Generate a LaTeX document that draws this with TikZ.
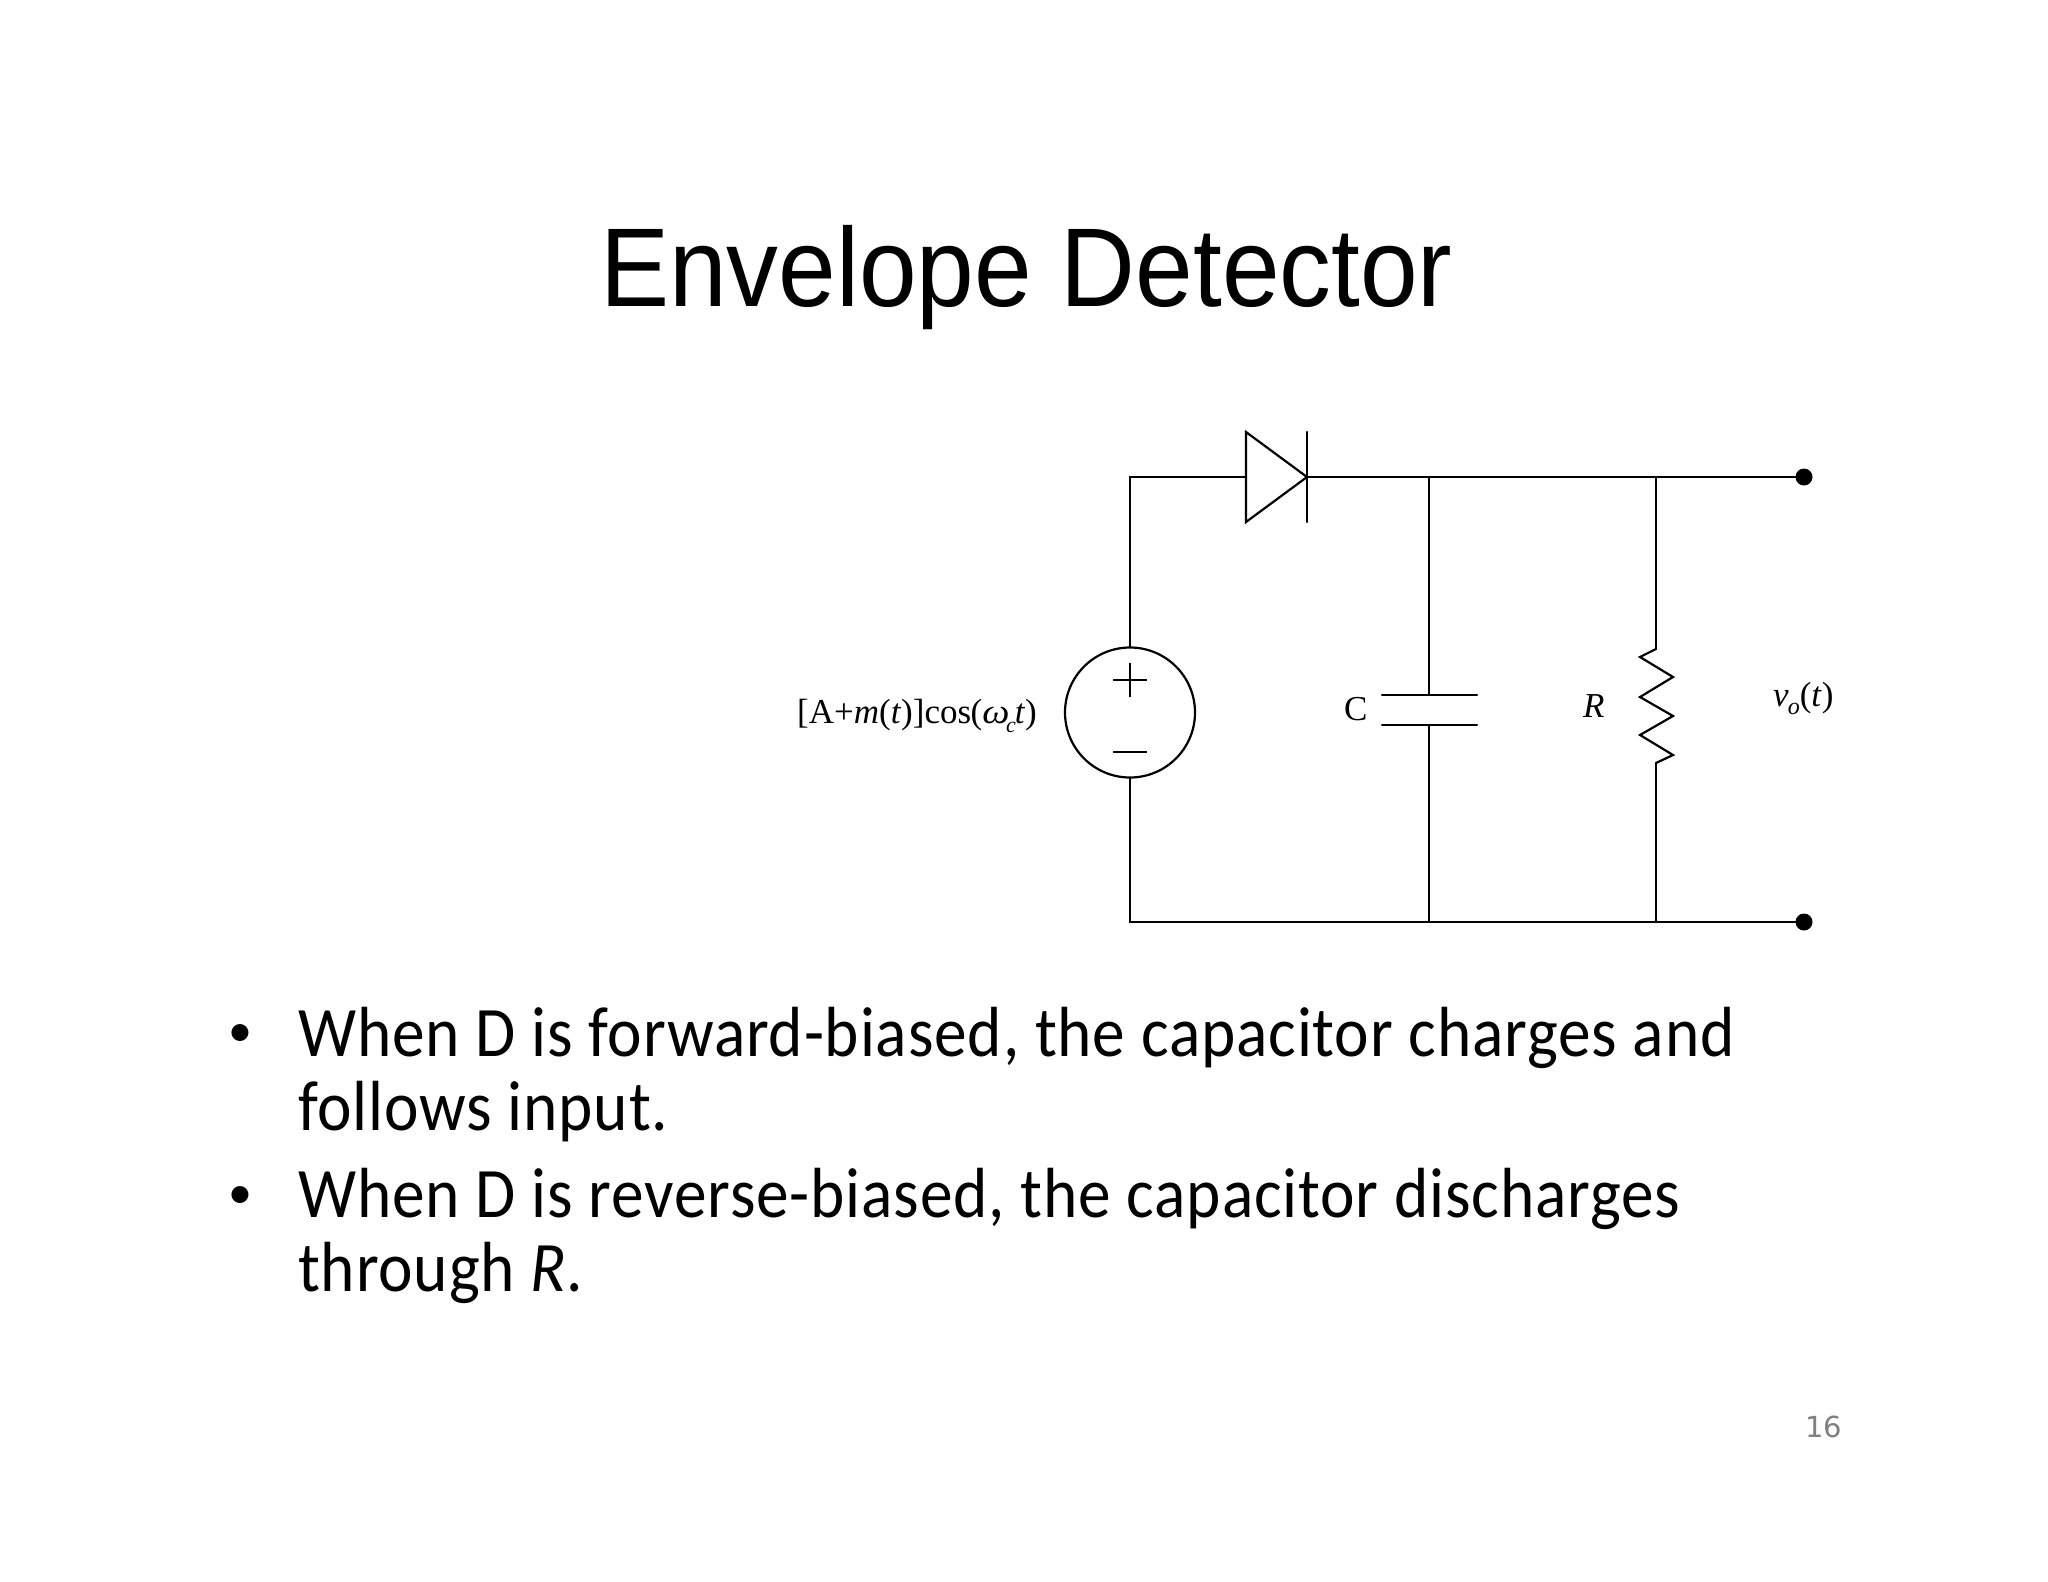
\documentclass[tikz,border=0pt]{standalone}
\usepackage{fontspec}
\setmainfont[FakeStretch=0.92,LetterSpace=1.22]{Carlito}
\newfontfamily\timesf{Liberation Serif}
\newfontfamily\titlef[FakeStretch=0.925]{Liberation Sans}
\newfontfamily\pagef{DejaVu Sans}
\newfontfamily\bulletf{Carlito}
\tikzset{
  x=1pt,y=-1pt,
  wire/.style={draw=black,line width=2.2pt,line cap=round,line join=miter},
  thinwire/.style={draw=black,line width=2pt},
  terminal/.style={circle,fill=black,draw=none,inner sep=0pt,minimum size=17pt},
  titletext/.style={anchor=base west,inner sep=0pt,font=\titlef\fontsize{112}{112}\selectfont},
  bodytext/.style={anchor=base west,inner sep=0pt,font=\fontsize{71}{72}\selectfont},
  bullettext/.style={anchor=base west,inner sep=0pt,font=\bulletf\fontsize{48}{48}\selectfont},
  ckttext/.style={anchor=base west,inner sep=0pt,font=\timesf\fontsize{35}{35}\selectfont},
}
\begin{document}
\begin{tikzpicture}
\useasboundingbox[fill=white] (0,0) rectangle (2048,1582);
% text
\node[titletext] (title) at (600,306) {Envelope Detector};
\node[bullettext] (b1) at (228,1046.5) {•};
\node[bodytext] (l1) at (298,1056) {When D is forward-biased, the capacitor charges and};
\node[bodytext] (l2) at (298,1130) {follows input.};
\node[bullettext] (b2) at (228,1208.5) {•};
\node[bodytext] (l3) at (298,1217) {When D is reverse-biased, the capacitor discharges};
\node[bodytext] (l4) at (298,1291) {through \textit{R}.};
\node[anchor=base west,inner sep=0pt,text=black!50,font=\pagef\fontsize{29}{29}\selectfont] (page) at (1805,1437) {16};
% circuit labels
\node[ckttext] (src) at (797,723) {[A+\textit{m}(\textit{t})]cos\hspace{-0.5pt}(\scalebox{1.1}[1]{\textit{ω}}\hspace{-3.5pt}\raisebox{-9pt}{\fontsize{22}{22}\selectfont\textit{c}}\hspace{-1pt}\textit{t})};
\node[ckttext] (clab) at (1344,720) {C};
\node[ckttext] (rlab) at (1583,717) {\textit{R}};
\node[ckttext] (vlab) at (1773,706) {\textit{v}\hspace{-1pt}\raisebox{-8pt}{\fontsize{24}{24}\selectfont\textit{o}}(\textit{t})};
% junctions
\coordinate (tl) at (1130,477);
\coordinate (bl) at (1130,922);
\coordinate (dIn) at (1246,477);
\coordinate (dOut) at (1307,477);
\coordinate (ct) at (1429,477);
\coordinate (cb) at (1429,922);
\coordinate (rt) at (1656,477);
\coordinate (rb) at (1656,922);
\node[terminal] (t1) at (1804,477) {};
\node[terminal] (t2) at (1804,922) {};
% source
\node[circle,draw=black,line width=2.2pt,minimum size=130pt,inner sep=0pt] (vs) at (1130,712.5) {};
\draw[thinwire] (1113,680) -- (1147,680);
\draw[thinwire] (1130,663) -- (1130,697);
\draw[thinwire] (1113,752) -- (1147,752);
% diode
\draw[wire,line join=miter] (1246,432) -- (1307,477) -- (1246,522) -- cycle;
\draw[wire] (1307,432) -- (1307,522);
% capacitor
\coordinate (cp1) at (1429,695);
\coordinate (cp2) at (1429,725);
\draw[wire] (1382,695) -- (1477,695);
\draw[wire] (1382,725) -- (1477,725);
% resistor
\coordinate (r1) at (1656,649);
\coordinate (r2) at (1656,763);
\draw[wire] (r1) -- (1640,657) -- (1673,677) -- (1640,697) -- (1673,716) -- (1640,735) -- (1673,755) -- (r2);
% wires
\draw[wire] (vs.north) -- (tl) -- (dIn);
\draw[wire] (dOut) -- (ct) -- (rt) -- (t1);
\draw[wire] (vs.south) -- (bl) -- (cb) -- (rb) -- (t2);
\draw[wire] (ct) -- (cp1);
\draw[wire] (cp2) -- (cb);
\draw[wire] (rt) -- (r1);
\draw[wire] (r2) -- (rb);
\end{tikzpicture}
\end{document}
